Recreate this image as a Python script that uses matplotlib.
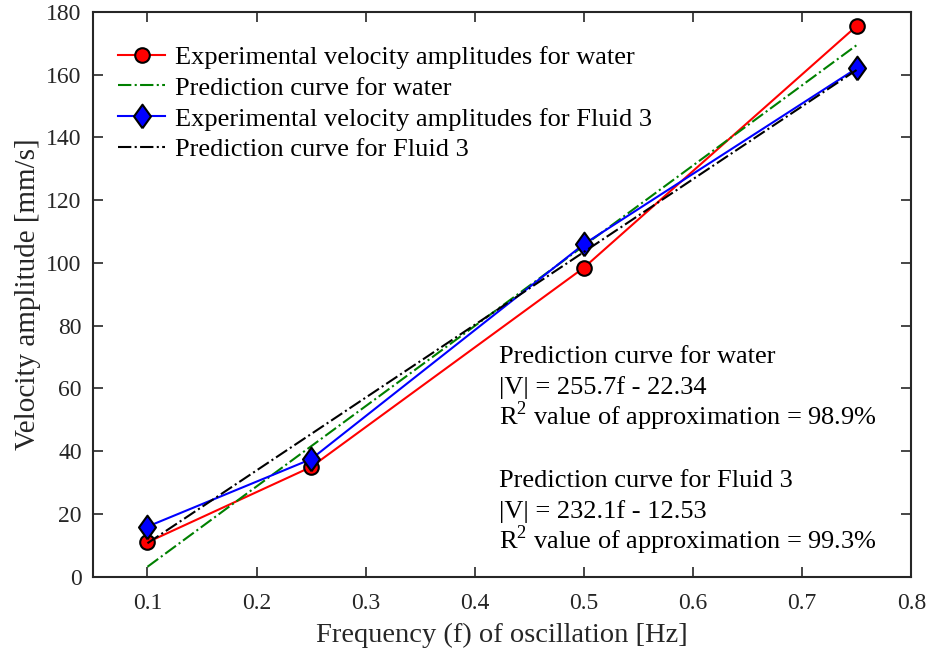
import matplotlib
matplotlib.use('Agg')
import matplotlib.pyplot as plt

plt.rcParams['font.family'] = ['Liberation Serif', 'DejaVu Serif']
plt.rcParams['mathtext.fontset'] = 'custom'
plt.rcParams['mathtext.rm'] = 'Liberation Serif'

freq = [0.1, 0.25, 0.5, 0.75]
water_exp = [11.0, 35.0, 98.5, 175.5]
water_pred = [3.2, 41.6, 105.5, 169.4]
fluid3_exp = [16.0, 37.5, 106.0, 162.0]
fluid3_pred = [10.7, 45.5, 103.5, 161.5]

# diamond a bit wider than matplotlib's thin 'd'
diamond = [(0, -1), (0.72, 0), (0, 1), (-0.72, 0), (0, -1)]

fig = plt.figure(figsize=(9.29, 6.54), dpi=100)
ax = fig.add_axes([0.100, 0.118, 0.881, 0.864])

ax.plot(freq, water_exp, '-', color='red', lw=1.5, marker='o', ms=10.5,
        mfc='red', mec='black', mew=1.5,
        label='Experimental velocity amplitudes for water')
ax.plot(freq, water_pred, '-.', color='green', lw=1.5,
        label='Prediction curve for water')
ax.plot(freq, fluid3_exp, '-', color='blue', lw=1.5, marker=diamond, ms=17,
        mfc='blue', mec='black', mew=1.5,
        label='Experimental velocity amplitudes for Fluid 3')
ax.plot(freq, fluid3_pred, '-.', color='black', lw=1.5,
        label='Prediction curve for Fluid 3')

ax.set_xlim(0.05, 0.8)
ax.set_ylim(0, 180)
ax.set_xticks([0.1, 0.2, 0.3, 0.4, 0.5, 0.6, 0.7, 0.8])
ax.set_yticks(range(0, 181, 20))
ax.tick_params(direction='in', top=True, right=True, labelsize=17,
               length=7, width=1.2, color='#262626', labelcolor='#262626', pad=8)
ax.tick_params(axis='x', pad=12)
for s in ax.spines.values():
    s.set_linewidth(1.5)
    s.set_color('#262626')

ax.set_xlabel('Frequency (f) of oscillation [Hz]', fontsize=20.5,
              color='#262626', labelpad=6)
ax.set_ylabel('Velocity amplitude [mm/s]', fontsize=21, color='#262626')

ax.legend(loc='upper left', frameon=False, fontsize=19, handlelength=1.8,
          borderaxespad=0.55, labelspacing=0.28, handletextpad=0.35,
          bbox_to_anchor=(0.0, 0.985))

lines = ['Prediction curve for water',
         '|V| = 255.7f - 22.34',
         r'R$^2$ value of approximation = 98.9%',
         '',
         'Prediction curve for Fluid 3',
         '|V| = 232.1f - 12.53',
         r'R$^2$ value of approximation = 99.3%']
y0 = 68.2
for i, t in enumerate(lines):
    ax.text(0.422, y0 - i * 9.88, t, fontsize=19, va='baseline', ha='left')

fig.savefig('out.png', dpi=100)
